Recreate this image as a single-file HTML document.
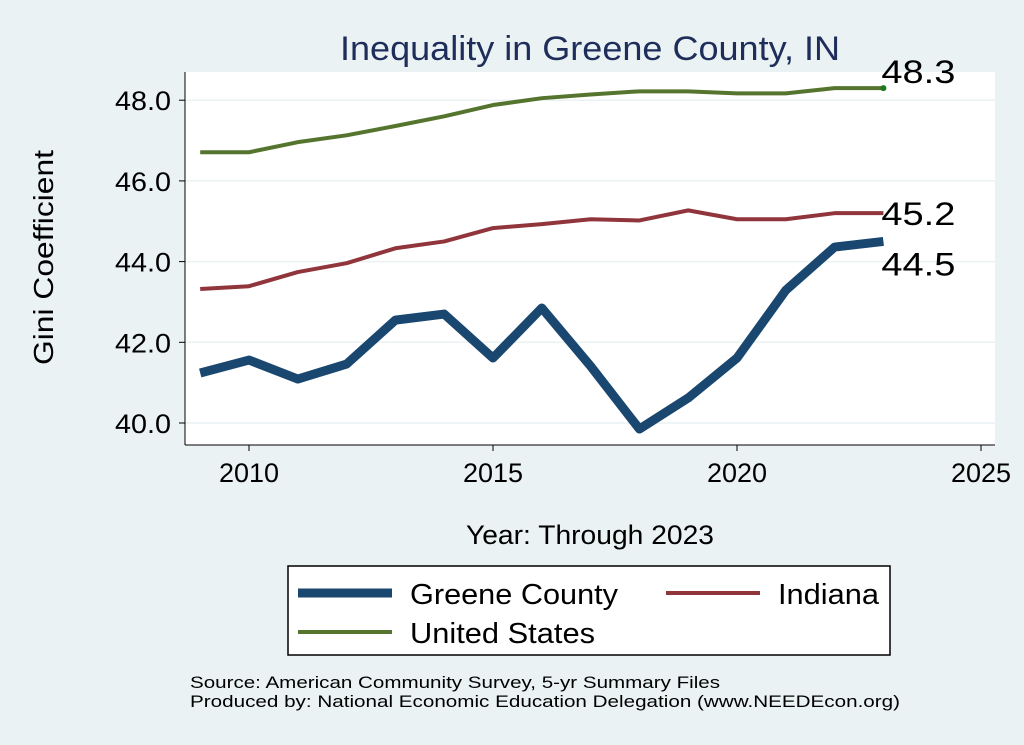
<!DOCTYPE html>
<html><head><meta charset="utf-8"><style>
body{margin:0;background:#eaf2f3;}
svg{display:block;font-family:"Liberation Sans",Arial,sans-serif;}
</style></head><body>
<svg id="chart" width="1024" height="745" viewBox="0 0 1024 745">
<rect x="0" y="0" width="1024" height="745" fill="#eaf2f3"/>
<rect x="185" y="72" width="810" height="373" fill="#ffffff"/>
<text x="340" y="60" textLength="500" lengthAdjust="spacingAndGlyphs" font-size="34" fill="#1e2d5a">Inequality in Greene County, IN</text>
<g id="grid"></g><g id="axes"></g><g id="series"></g>
<text transform="translate(53,365) rotate(-90)" textLength="215" lengthAdjust="spacingAndGlyphs" font-size="28" fill="#000">Gini Coefficient</text>
<text x="466" y="544" textLength="248" lengthAdjust="spacingAndGlyphs" font-size="27" fill="#000">Year: Through 2023</text>
<g>
<rect x="288" y="566" width="602" height="89" fill="#fff" stroke="#000" stroke-width="1.5"/>
<line x1="298" y1="593" x2="392" y2="593" stroke="#1a476f" stroke-width="9"/>
<text x="410" y="604" textLength="208" lengthAdjust="spacingAndGlyphs" font-size="29">Greene County</text>
<line x1="666" y1="593" x2="760" y2="593" stroke="#90353b" stroke-width="4"/>
<text x="778" y="604" textLength="101" lengthAdjust="spacingAndGlyphs" font-size="29">Indiana</text>
<line x1="298" y1="632" x2="392" y2="632" stroke="#55752f" stroke-width="4"/>
<text x="410" y="643" textLength="185" lengthAdjust="spacingAndGlyphs" font-size="29">United States</text>
</g>
<text x="190" y="688" textLength="530" lengthAdjust="spacingAndGlyphs" font-size="17">Source: American Community Survey, 5-yr Summary Files</text>
<text x="190" y="707" textLength="710" lengthAdjust="spacingAndGlyphs" font-size="17">Produced by: National Economic Education Delegation (www.NEEDEcon.org)</text>
</svg>
<script>
const years=[2009,2010,2011,2012,2013,2014,2015,2016,2017,2018,2019,2020,2021,2022,2023];
const greene=[41.24,41.56,41.09,41.46,42.55,42.70,41.61,42.85,41.41,39.85,40.62,41.61,43.29,44.36,44.5];
const indiana=[43.32,43.39,43.74,43.96,44.33,44.5,44.83,44.93,45.05,45.02,45.27,45.05,45.05,45.2,45.2];
const us=[46.71,46.71,46.96,47.13,47.36,47.6,47.88,48.05,48.14,48.22,48.22,48.17,48.17,48.3,48.3];
const xTicks=[2010,2015,2020,2025];
const yTicks=[40,42,44,46,48];
const NS="http://www.w3.org/2000/svg";
const X=v=>249+(v-2010)*48.8;
const Y=v=>423-(v-40)*40.35;
function mk(t,a,p){const e=document.createElementNS(NS,t);for(const k in a)e.setAttribute(k,a[k]);p.appendChild(e);return e;}
const grid=document.getElementById('grid'),axes=document.getElementById('axes'),ser=document.getElementById('series');
yTicks.forEach(v=>{
 const g=mk('line',{x1:185,x2:995,y1:Y(v),y2:Y(v),stroke:'#eaf2f3','stroke-width':1.5},grid);
 
 
 mk('line',{x1:179,x2:185,y1:Y(v),y2:Y(v),stroke:'#000'},axes);
 const t=mk('text',{x:171,y:Y(v)+10,'text-anchor':'end','font-size':27,textLength:56,lengthAdjust:'spacingAndGlyphs'},axes);t.textContent=v.toFixed(1);
 
 
});
mk('line',{x1:185,x2:185,y1:72,y2:445,stroke:'#000'},axes);
mk('line',{x1:185,x2:995,y1:445,y2:445,stroke:'#000'},axes);
xTicks.forEach(v=>{
 mk('line',{x1:X(v),x2:X(v),y1:445,y2:451,stroke:'#000'},axes);
 const t=mk('text',{x:X(v),y:482,'text-anchor':'middle','font-size':27},axes);t.textContent=v;
 
 
});
function line(d,c,w,name){
 const p=mk('polyline',{points:d.map((v,i)=>X(years[i])+','+Y(v)).join(' '),fill:'none',stroke:c,'stroke-width':w,'stroke-linejoin':'round'},ser);
 
 
}
line(us,'#55752f',4,'line-us');
line(indiana,'#90353b',4,'line-indiana');
line(greene,'#1a476f',9,'line-greene');
const L=years.length-1;
mk('circle',{cx:X(years[L]),cy:Y(us[L]),r:3,fill:'#1a7a1a'},ser);
function lab(v,dy,name){const t=mk('text',{x:X(years[L])-2,y:Y(v)+dy,'font-size':32,textLength:74,lengthAdjust:'spacingAndGlyphs'},ser);t.textContent=v.toFixed(1);
 
 }
lab(us[L],-5,'label-us');
lab(indiana[L],12,'label-indiana');
lab(greene[L],34,'label-greene');
</script>
</body></html>
